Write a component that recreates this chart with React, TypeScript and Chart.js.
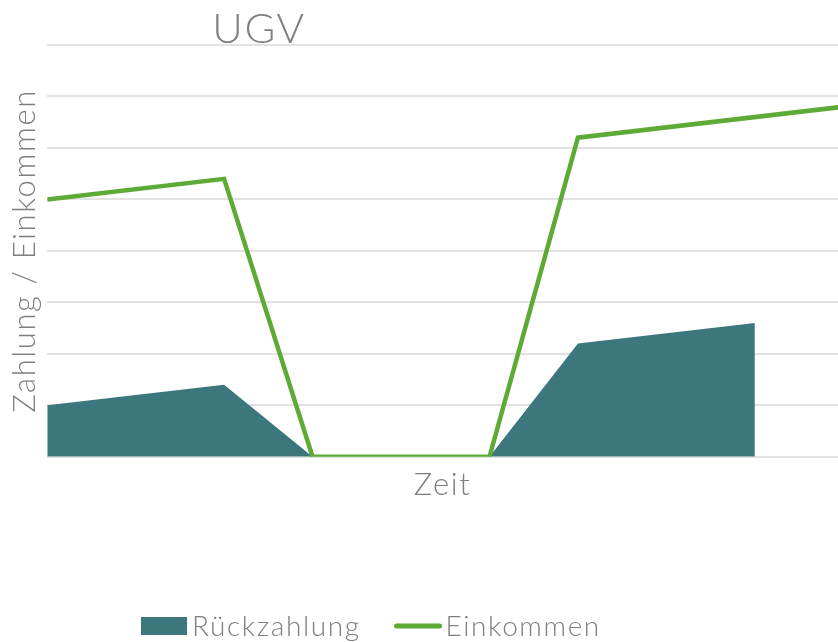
import React, { useEffect, useRef } from "react";
import { Chart, registerables } from "chart.js";

Chart.register(...registerables);

const chartTitle = "UGV";
const xAxisTitle = "Zeit";
const yAxisTitle = "Zahlung / Einkommen";
const seriesNames = ["Rückzahlung", "Einkommen"];
const rueckzahlungX = [0, 2, 3, 5, 6, 8];
const rueckzahlungY = [1, 1.4, 0, 0, 2.2, 2.6];
const einkommenX = [0, 2, 3, 5, 6, 9];
const einkommenY = [5, 5.4, 0, 0, 6.2, 6.8];
const yMin = 0;
const yMax = 8;
const yStep = 1;
const xMin = 0;
const xMax = 8.94;

const FONT = "Lato, 'Open Sans', sans-serif";
const TEXT = "#7f7f7f";
const TEAL = "#3d777e";
const GREEN = "#5dab36";

const overlay = {
  id: "overlay",
  beforeDraw(chart: any) {
    chart.ctx.letterSpacing = "1.6px";
  },
  afterDraw(chart: any) {
    const ctx = chart.ctx;
    ctx.save();
    ctx.letterSpacing = "1.6px";
    ctx.fillStyle = TEXT;
    ctx.font = `300 42px ${FONT}`;
    ctx.textAlign = "center";
    ctx.textBaseline = "middle";
    ctx.fillText(chartTitle, 259, 29);

    ctx.font = `300 28px ${FONT}`;
    ctx.textAlign = "left";
    let x = 141;
    const y = 626;
    chart.data.datasets.forEach((ds: any) => {
      if (ds.fill) {
        ctx.fillStyle = ds.backgroundColor;
        ctx.fillRect(x, y - 9, 46, 18);
      } else {
        ctx.strokeStyle = ds.borderColor;
        ctx.lineWidth = 5;
        ctx.lineCap = "round";
        ctx.beginPath();
        ctx.moveTo(x + 2, y);
        ctx.lineTo(x + 45, y);
        ctx.stroke();
      }
      x += 51;
      ctx.fillStyle = TEXT;
      ctx.fillText(ds.label, x, y + 1);
      x += ctx.measureText(ds.label).width + 34;
    });
    ctx.restore();
  },
};

export default function App() {
  const ref = useRef<HTMLCanvasElement | null>(null);
  useEffect(() => {
    if (!ref.current) return;
    const chart = new Chart(ref.current, {
      type: "line",
      data: {
        datasets: [
          {
            label: seriesNames[0],
            data: rueckzahlungX.map((x, i) => ({ x, y: rueckzahlungY[i] })),
            fill: "origin",
            backgroundColor: TEAL,
            borderColor: TEAL,
            borderWidth: 0,
            pointRadius: 0,
            tension: 0,
            order: 1,
          },
          {
            label: seriesNames[1],
            data: einkommenX.map((x, i) => ({ x, y: einkommenY[i] })),
            fill: false,
            borderColor: GREEN,
            backgroundColor: GREEN,
            borderWidth: 4.5,
            pointRadius: 0,
            tension: 0,
            order: 0,
          },
        ],
      },
      options: {
        animation: false,
        responsive: false,
        devicePixelRatio: 1,
        layout: { padding: { top: 45, right: 0, bottom: 134, left: 2 } },
        plugins: {
          legend: { display: false },
          title: { display: false },
          tooltip: { enabled: false },
        },
        scales: {
          x: {
            type: "linear",
            min: xMin,
            max: xMax,
            ticks: { display: false },
            grid: { display: false, drawTicks: false },
            border: { display: false },
            title: {
              display: true,
              text: xAxisTitle,
              color: TEXT,
              font: { family: FONT, size: 31, weight: "300" },
              padding: { top: 10, bottom: 4 },
            },
          },
          y: {
            min: yMin,
            max: yMax,
            ticks: { display: false, stepSize: yStep },
            grid: { color: "#e2e2e2", lineWidth: 2, drawTicks: false },
            border: { display: false },
            title: {
              display: true,
              text: yAxisTitle,
              color: TEXT,
              font: { family: FONT, size: 31, weight: "300" },
              padding: { top: 4, bottom: 4 },
            },
          },
        },
      },
      plugins: [overlay],
    });
    return () => chart.destroy();
  }, []);
  return (
    <div style={{ position: "absolute", left: 0, top: 0, width: 838, height: 642 }}>
      <canvas ref={ref} width={838} height={642} />
    </div>
  );
}
